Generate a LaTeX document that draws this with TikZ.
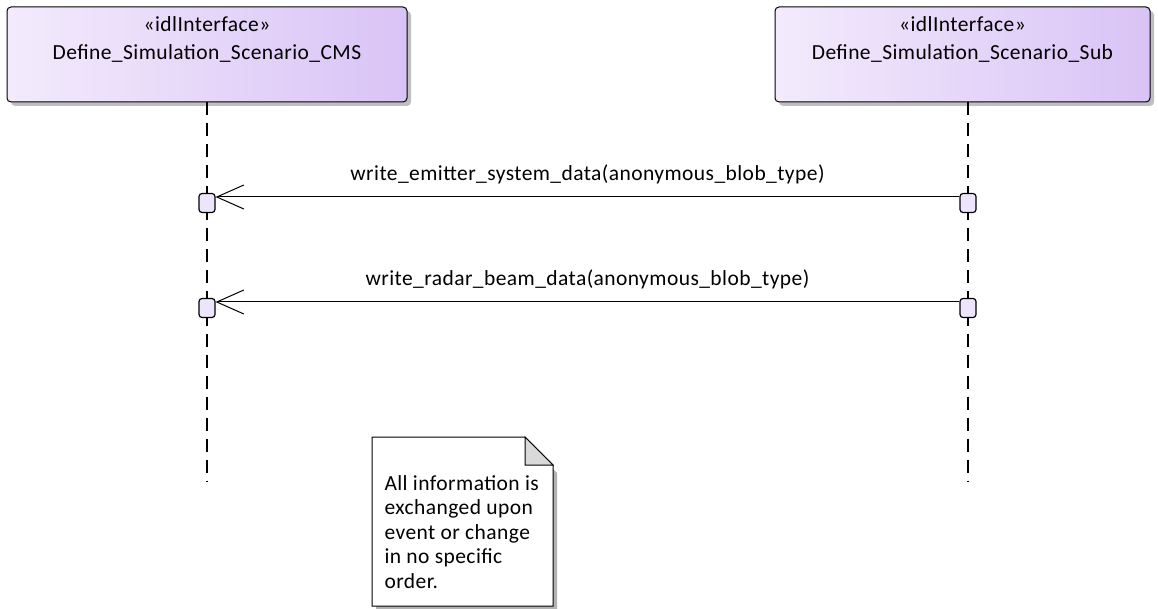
\documentclass[tikz,border=0pt]{standalone}
\usepackage{fontspec}
\setmainfont{Carlito}[LetterSpace=2]
\usetikzlibrary{positioning,arrows.meta,shadows}

\definecolor{ifaceL}{HTML}{F3EBFC}
\definecolor{ifaceR}{HTML}{D9C3F6}
\definecolor{actfill}{HTML}{EEE4FB}
\definecolor{notefold}{HTML}{D9D9D9}

\tikzset{
  iface/.style={draw=black, line width=1pt, rounded corners=4pt,
    left color=ifaceL, right color=ifaceR, minimum height=95pt,
    drop shadow={shadow xshift=4pt, shadow yshift=-4pt, fill=black!25, opacity=1}},
  ifacetext/.style={align=center, font=\fontsize{21.5}{28}\selectfont},
  lifeline/.style={line width=1.2pt, dash pattern=on 13pt off 8pt},
  actbox/.style={draw=black, line width=1.2pt, fill=actfill, rounded corners=3pt,
    minimum width=16pt, minimum height=19pt, inner sep=0pt},
  msg/.style={line width=1pt, -{Straight Barb[length=27pt,width=24pt,line width=1pt]}},
  msglabel/.style={font=\fontsize{21.5}{26}\selectfont, above=9pt},
  notetext/.style={align=left, font=\fontsize{21.5}{24.5}\selectfont, anchor=north west}
}

\begin{document}
\begin{tikzpicture}[x=1pt, y=-1pt]
  \useasboundingbox (0,0) rectangle (1158,609);

  % interfaces
  \node[iface, minimum width=400pt] (cms) at (207,54.5) {};
  \node[iface, minimum width=375pt] (sub) at (962.5,54.5) {};
  \node[ifacetext, below=7pt of cms.north] {«idlInterface»\\Define\_Simulation\_Scenario\_CMS};
  \node[ifacetext, below=7pt of sub.north] {«idlInterface»\\Define\_Simulation\_Scenario\_Sub};

  % lifelines
  \coordinate (cmsend) at (207,482);
  \coordinate (subend) at (968,482);
  \draw[lifeline] (cms.south) -- (cmsend);
  \draw[lifeline] (sub.south -| subend) -- (subend);

  % activations
  \node[actbox] (cmsa1) at (207,203) {};
  \node[actbox] (suba1) at (968,203) {};
  \node[actbox] (cmsa2) at (207,308) {};
  \node[actbox] (suba2) at (968,308) {};

  % messages
  \draw[msg] ([yshift=6pt]suba1.west) -- node[msglabel] {write\_emitter\_system\_data(anonymous\_blob\_type)} ([yshift=6pt]cmsa1.east);
  \draw[msg] ([yshift=6pt]suba2.west) -- node[msglabel] {write\_radar\_beam\_data(anonymous\_blob\_type)} ([yshift=6pt]cmsa2.east);

  % note
  \fill[black!30] (376,441) -- (525,441) -- (557,473) -- (557,610) -- (376,610) -- cycle;
  \draw[line width=1pt, fill=white] (372,437) -- (525,437) -- (553,465) -- (553,606) -- (372,606) -- cycle;
  \draw[line width=1pt, fill=notefold] (525,437) -- (525,465) -- (553,465) -- cycle;
  \node[notetext] (note) at (381,472) {All information is\\exchanged upon\\event or change\\in no specific\\order.};
\end{tikzpicture}
\end{document}
